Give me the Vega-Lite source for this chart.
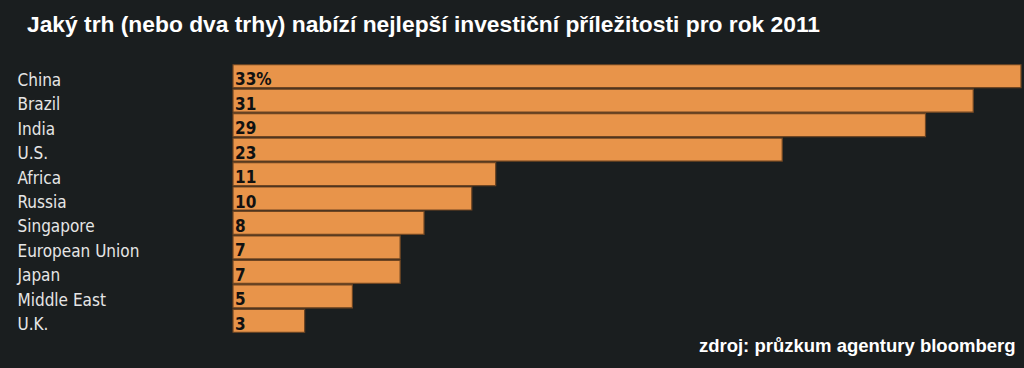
{
  "$schema": "https://vega.github.io/schema/vega-lite/v6.json",
  "width": 788,
  "height": 269,
  "autosize": {"type": "none"},
  "padding": {"left": 233, "top": 64, "right": 3, "bottom": 35},
  "background": "#1a1e1f",
  "config": {"view": {"stroke": null}},
  "title": {
    "text": "Jaký trh (nebo dva trhy) nabízí nejlepší investiční příležitosti pro rok 2011",
    "anchor": "start",
    "frame": "group",
    "dx": -206,
    "offset": 27,
    "font": "Liberation Sans",
    "fontSize": 22.8,
    "fontWeight": "bold",
    "color": "#ffffff"
  },
  "data": {
    "values": [
      {"market": "China", "value": 33, "label": "33%"},
      {"market": "Brazil", "value": 31, "label": "31"},
      {"market": "India", "value": 29, "label": "29"},
      {"market": "U.S.", "value": 23, "label": "23"},
      {"market": "Africa", "value": 11, "label": "11"},
      {"market": "Russia", "value": 10, "label": "10"},
      {"market": "Singapore", "value": 8, "label": "8"},
      {"market": "European Union", "value": 7, "label": "7"},
      {"market": "Japan", "value": 7, "label": "7"},
      {"market": "Middle East", "value": 5, "label": "5"},
      {"market": "U.K.", "value": 3, "label": "3"}
    ]
  },
  "encoding": {
    "y": {
      "field": "market",
      "type": "nominal",
      "sort": null,
      "scale": {"paddingInner": 0.06, "paddingOuter": 0.03},
      "axis": {
        "title": null,
        "domain": false,
        "ticks": false,
        "labelAlign": "left",
        "labelPadding": 216,
        "labelOffset": 4.5,
        "labelFont": "'Liberation Sans Narrow', 'DejaVu Sans Condensed', 'Roboto Condensed', 'Arial Narrow', sans-serif",
        "labelFontSize": 17,
        "labelColor": "#e6e6e6",
        "labelLimit": 300
      }
    }
  },
  "layer": [
    {
      "mark": {"type": "bar", "color": "#e8944a", "stroke": "#6e4522", "strokeWidth": 1.2},
      "encoding": {
        "x": {
          "field": "value",
          "type": "quantitative",
          "scale": {"domain": [0, 33], "nice": false},
          "axis": {
            "title": "zdroj: průzkum agentury bloomberg",
            "titleAnchor": "end",
            "titleAlign": "right",
            "titleFont": "Liberation Sans",
            "titleFontSize": 18.5,
            "titleFontWeight": "bold",
            "titleColor": "#ffffff",
            "titlePadding": 3,
            "titleX": 782,
            "domain": false,
            "ticks": false,
            "labels": false,
            "grid": false
          }
        }
      }
    },
    {
      "mark": {
        "type": "text",
        "align": "left",
        "baseline": "middle",
        "dx": 2,
        "dy": 4,
        "font": "'Liberation Sans Narrow', 'DejaVu Sans Condensed', 'Roboto Condensed', 'Arial Narrow', sans-serif",
        "fontSize": 17,
        "fontWeight": "bold",
        "color": "#111111"
      },
      "encoding": {
        "x": {"datum": 0, "type": "quantitative"},
        "text": {"field": "label"}
      }
    }
  ]
}
